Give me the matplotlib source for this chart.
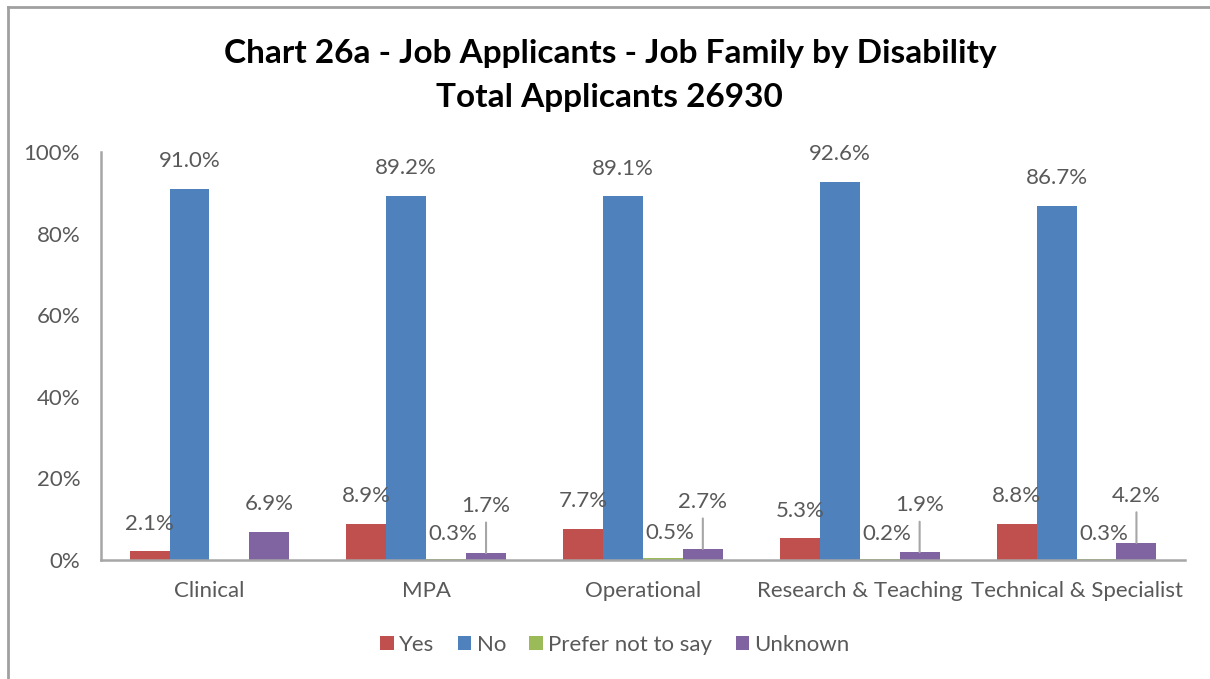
import matplotlib
matplotlib.use("Agg")
import matplotlib.pyplot as plt
from matplotlib.lines import Line2D
import numpy as np

plt.rcParams['font.family'] = ['Lato', 'DejaVu Sans']

categories = ["Clinical", "MPA", "Operational", "Research & Teaching", "Technical & Specialist"]
series_names = ["Yes", "No", "Prefer not to say", "Unknown"]
yes = [2.1, 8.9, 7.7, 5.3, 8.8]
no = [91.0, 89.2, 89.1, 92.6, 86.7]
prefer = [0.0, 0.3, 0.5, 0.2, 0.3]
unknown = [6.9, 1.7, 2.7, 1.9, 4.2]
colors = ["#C0504D", "#4F81BD", "#9BBB59", "#8064A2"]
yticks = [0, 20, 40, 60, 80, 100]

TEXT = "#595959"
GRAY = "#A6A6A6"
FS = 16

W, H = 1210, 679
fig = plt.figure(figsize=(W / 100, H / 100), dpi=100)
ax = fig.add_axes([101 / W, 1 - 560 / H, (1185 - 101) / W, (560 - 152) / H])

x = np.arange(len(categories))
bw = 0.184
data = [yes, no, prefer, unknown]
offsets = [-1.5, -0.5, 0.5, 1.5]

for vals, col, off, name in zip(data, colors, offsets, series_names):
    ax.bar(x + off * bw, vals, width=bw, color=col, label=name, zorder=2)

lab_kw = dict(textcoords="offset points", ha="center", va="center",
              fontsize=FS, color=TEXT)

for i in range(len(categories)):
    for vals, off in ((yes, -1.5), (no, -0.5)):
        ax.annotate(f"{vals[i]:.1f}%", (x[i] + off * bw, vals[i]), xytext=(0, 20), **lab_kw)
    xp = x[i] + 0.5 * bw
    xu = x[i] + 1.5 * bw
    if prefer[i] > 0:
        ax.annotate(f"{prefer[i]:.1f}%", (xp, prefer[i]), xytext=(5, 18), **lab_kw)
        ax.annotate(f"{unknown[i]:.1f}%", (xu, unknown[i]), xytext=(0, 34), **lab_kw)
        ax.annotate("", xy=(xu, unknown[i]), xycoords="data",
                    xytext=(0, 22), textcoords="offset points",
                    arrowprops=dict(arrowstyle="-", color=GRAY, lw=1.5,
                                    shrinkA=0, shrinkB=0))
    else:
        ax.annotate(f"{unknown[i]:.1f}%", (xu, unknown[i]), xytext=(0, 20), **lab_kw)

ax.set_xlim(-0.5, len(categories) - 0.5)
ax.set_ylim(0, 100)
ax.set_yticks(yticks)
ax.set_yticklabels([f"{t}%" for t in yticks])
ax.set_xticks(x)
ax.set_xticklabels(categories)
ax.tick_params(axis="both", length=0, labelsize=FS, labelcolor=TEXT)
ax.tick_params(axis="y", pad=15)
ax.tick_params(axis="x", pad=15)
for s in ("top", "right"):
    ax.spines[s].set_visible(False)
for s in ("left", "bottom"):
    ax.spines[s].set_color(GRAY)
    ax.spines[s].set_linewidth(1.8)

fig.text(0.504, 1 - 53 / H, "Chart 26a - Job Applicants - Job Family by Disability",
         ha="center", va="center", fontsize=24, fontweight="bold", color="black")
fig.text(0.504, 1 - 98 / H, "Total Applicants 26930",
         ha="center", va="center", fontsize=24, fontweight="bold", color="black")

fig.legend(loc="center", bbox_to_anchor=(615 / W, 1 - 645 / H), ncol=4, frameon=False,
           fontsize=FS, labelcolor=TEXT, handlelength=0.6, handleheight=0.6,
           handletextpad=0.25, columnspacing=1.05)

# outer chart frame
fig.add_artist(Line2D([8 / W, 8 / W], [0, 1 - 7 / H], color="#A0A0A0", lw=2))
fig.add_artist(Line2D([8 / W, 1], [1 - 7 / H, 1 - 7 / H], color="#A0A0A0", lw=2))

fig.savefig("out.png", dpi=100)
